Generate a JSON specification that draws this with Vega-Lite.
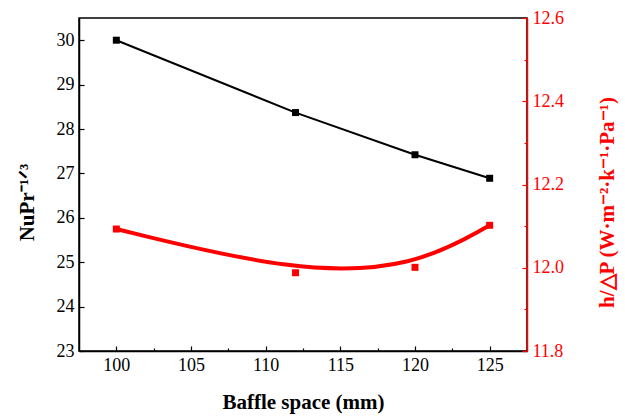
{
  "$schema": "https://vega.github.io/schema/vega-lite/v6.json",
  "width": 448,
  "height": 333,
  "autosize": "none",
  "padding": {"left": 79, "top": 18, "right": 98, "bottom": 65},
  "background": "white",
  "config": {
    "font": "Liberation Serif",
    "view": {"stroke": "black", "strokeWidth": 1.5},
    "axis": {
      "grid": false,
      "labelFont": "Liberation Serif",
      "titleFont": "Liberation Serif",
      "labelFontSize": 18,
      "titleFontSize": 21,
      "titleFontWeight": "bold",
      "domainWidth": 1.5,
      "tickWidth": 1.2
    }
  },
  "data": {
    "values": [
      {"space": 100, "nu": 30.0, "hdp": 12.093},
      {"space": 112, "nu": 28.37, "hdp": 11.988},
      {"space": 120, "nu": 27.42, "hdp": 12.001},
      {"space": 125, "nu": 26.89, "hdp": 12.102}
    ]
  },
  "encoding": {
    "x": {
      "field": "space",
      "type": "quantitative",
      "scale": {"domain": [97.5, 127.5], "nice": false, "zero": false},
      "axis": {
        "title": "Baffle space (mm)",
        "values": [100, 102.5, 105, 107.5, 110, 112.5, 115, 117.5, 120, 122.5, 125],
        "labelExpr": "datum.value % 5 === 0 ? format(datum.value, 'd') : ''",
        "tickSize": {"condition": {"test": "datum.value % 5 !== 0", "value": -3}, "value": -5},
        "labelBaseline": "alphabetic",
        "labelPadding": 24,
        "titleBaseline": "alphabetic",
        "titleY": 57,
        "domainColor": "black",
        "tickColor": "black",
        "labelColor": "black",
        "titleColor": "black"
      }
    }
  },
  "layer": [
    {
      "layer": [
        {
          "mark": {"type": "line", "color": "black", "strokeWidth": 2},
          "encoding": {
            "y": {
              "field": "nu",
              "type": "quantitative",
              "scale": {"domain": [23, 30.5], "nice": false, "zero": false},
              "axis": {
                "orient": "left",
                "title": "NuPr⁻¹ᐟ³",
                "values": [23, 23.5, 24, 24.5, 25, 25.5, 26, 26.5, 27, 27.5, 28, 28.5, 29, 29.5, 30],
                "labelExpr": "datum.value % 1 === 0 ? format(datum.value, 'd') : ''",
                "tickSize": {"condition": {"test": "datum.value % 1 !== 0", "value": -3}, "value": -5},
                "labelPadding": 10,
                "titleAngle": 270,
                "titleBaseline": "middle",
                "titleAlign": "center",
                "titleX": -52,
                "titleY": 184,
                "domainColor": "black",
                "tickColor": "black",
                "labelColor": "black",
                "titleColor": "black"
              }
            }
          }
        },
        {
          "mark": {"type": "square", "color": "black", "opacity": 1, "size": 49},
          "encoding": {"y": {"field": "nu", "type": "quantitative"}}
        }
      ]
    },
    {
      "layer": [
        {
          "mark": {"type": "line", "color": "#ff0000", "strokeWidth": 4, "interpolate": "basis"},
          "encoding": {
            "y": {
              "field": "hdp",
              "type": "quantitative",
              "scale": {"domain": [11.8, 12.6], "nice": false, "zero": false},
              "axis": {
                "orient": "right",
                "title": "h/△P (W·m⁻²·k⁻¹·Pa⁻¹)",
                "values": [11.8, 11.9, 12.0, 12.1, 12.2, 12.3, 12.4, 12.5, 12.6],
                "labelExpr": "round(datum.value * 10) % 2 === 0 ? format(datum.value, '.1f') : ''",
                "tickSize": {"condition": {"test": "round(datum.value * 10) % 2 !== 0", "value": -3}, "value": -5},
                "labelAlign": "left",
                "labelPadding": 10,
                "titleAngle": 270,
                "titleBaseline": "middle",
                "titleAlign": "center",
                "titleX": 80,
                "titleY": 184,
                "domainColor": "#ff0000",
                "tickColor": "#ff0000",
                "labelColor": "#ff0000",
                "titleColor": "#ff0000"
              }
            }
          }
        },
        {
          "mark": {"type": "square", "color": "#ff0000", "opacity": 1, "size": 49},
          "encoding": {"y": {"field": "hdp", "type": "quantitative"}}
        }
      ]
    }
  ],
  "resolve": {"scale": {"y": "independent"}}
}
